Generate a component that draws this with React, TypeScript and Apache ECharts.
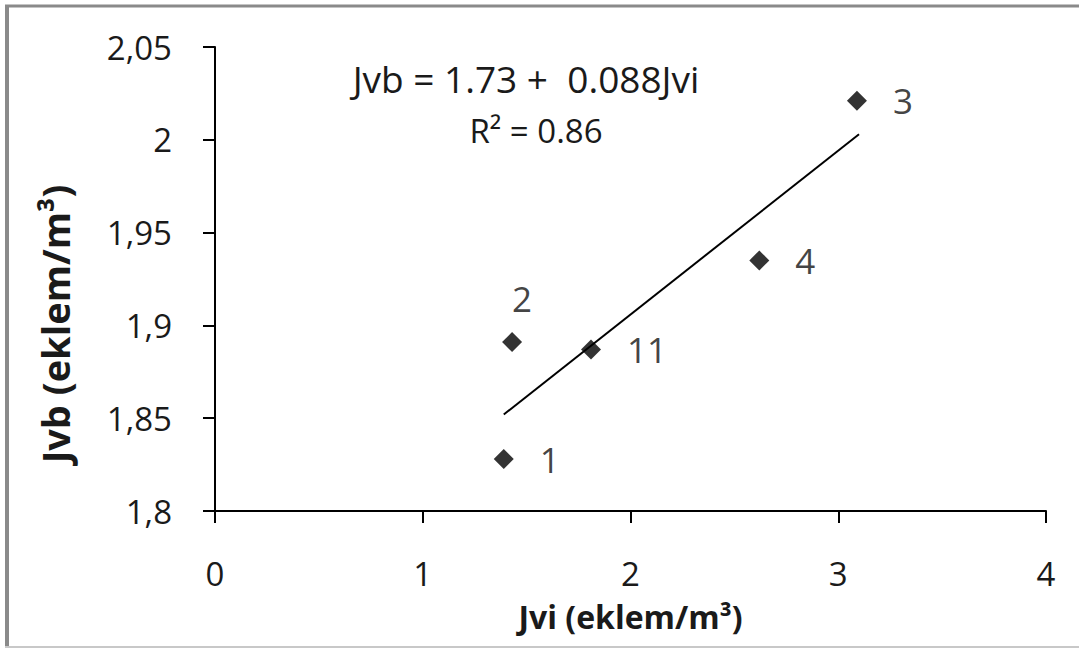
import React, { useEffect, useRef } from "react";
import * as echarts from "echarts";

const pointNames = ["1", "2", "11", "4", "3"];
const jviValues = [1.39, 1.43, 1.81, 2.62, 3.09];
const jvbValues = [1.828, 1.891, 1.887, 1.935, 2.021];
const labelPositions = ["right", "top", "right", "right", "right"];
const trendX = [1.39, 3.1];
const trendY = [1.852, 2.003];
const xTicks = [0, 1, 2, 3, 4];
const yTickLabels: Record<string, string> = {
  "1.8": "1,8",
  "1.85": "1,85",
  "1.9": "1,9",
  "1.95": "1,95",
  "2": "2",
  "2.05": "2,05",
};
const equationText = "Jvb = 1.73 +  0.088Jvi";
const r2Text = "R² = 0.86";
const xTitle = "Jvi (eklem/m³)";
const yTitle = "Jvb (eklem/m³)";

const FONT = "'Open Sans', sans-serif";
const TXT = "#1a1a1a";

export default function App() {
  const ref = useRef<HTMLDivElement>(null);
  useEffect(() => {
    if (!ref.current) return;
    const chart = echarts.init(ref.current, null, { renderer: "svg" });
    const scatterData = jviValues.map((x, i) => ({
      value: [x, jvbValues[i]],
      name: pointNames[i],
      label: {
        show: true,
        position: labelPositions[i],
        distance: labelPositions[i] === "top" ? 16 : 26,
        offset: labelPositions[i] === "top" ? [10, 0] : [0, 0],
        formatter: pointNames[i],
        color: "#111",
        textBorderWidth: 0,
      },
    }));
    chart.setOption({
      animation: false,
      backgroundColor: "#ffffff",
      grid: {
        left: 215,
        right: 33,
        top: 47,
        bottom: 137,
        containLabel: false,
        outerBoundsMode: "none",
      },
      xAxis: {
        type: "value",
        min: 0,
        max: 4,
        interval: 1,
        axisLine: { show: true, lineStyle: { color: "#000", width: 2 } },
        axisTick: { show: true, inside: false, length: 12, lineStyle: { color: "#000", width: 2 } },
        axisLabel: {
          color: TXT,
          fontFamily: FONT,
          fontSize: 33,
          margin: 46,
          formatter: (v: number) => (xTicks.includes(v) ? String(v) : ""),
        },
        splitLine: { show: false },
        name: xTitle,
        nameLocation: "middle",
        nameGap: 89,
        nameTextStyle: { color: TXT, fontFamily: FONT, fontSize: 32, fontWeight: "bold" },
      },
      yAxis: {
        type: "value",
        min: 1.8,
        max: 2.05,
        interval: 0.05,
        axisLine: { show: true, lineStyle: { color: "#000", width: 2 } },
        axisTick: { show: true, inside: false, length: 12, lineStyle: { color: "#000", width: 2 } },
        axisLabel: {
          color: TXT,
          fontFamily: FONT,
          fontSize: 33,
          margin: 43,
          formatter: (v: number) => yTickLabels[String(Math.round(v * 100) / 100)] ?? "",
        },
        splitLine: { show: false },
      },
      series: [
        {
          type: "line",
          data: trendX.map((x, i) => [x, trendY[i]]),
          symbol: "none",
          lineStyle: { color: "#000", width: 2 },
          z: 1,
        },
        {
          type: "scatter",
          data: scatterData,
          symbol: "diamond",
          symbolSize: [20, 20],
          itemStyle: { color: "#000" },
          label: { color: "#111", fontFamily: FONT, fontSize: 35 },
          z: 3,
        },
      ],
      graphic: [
        {
          type: "line",
          shape: { x1: 5, y1: 6, x2: 1079, y2: 6 },
          style: { stroke: "#8a8a8a", lineWidth: 3 },
          silent: true,
        },
        {
          type: "line",
          shape: { x1: 7, y1: 5, x2: 7, y2: 648 },
          style: { stroke: "#8a8a8a", lineWidth: 4 },
          silent: true,
        },
        {
          type: "line",
          shape: { x1: 5, y1: 647, x2: 1079, y2: 647 },
          style: { stroke: "#c8c8c8", lineWidth: 2 },
          silent: true,
        },
        {
          type: "text",
          x: 526,
          y: 78,
          style: {
            text: equationText,
            fontFamily: FONT,
            fontSize: 37,
            fill: TXT,
            textAlign: "center",
            textVerticalAlign: "middle",
          },
        },
        {
          type: "text",
          x: 536,
          y: 130,
          style: {
            text: r2Text,
            fontFamily: FONT,
            fontSize: 33,
            fill: TXT,
            textAlign: "center",
            textVerticalAlign: "middle",
          },
        },
        {
          type: "text",
          x: 55,
          y: 324,
          rotation: Math.PI / 2,
          style: {
            text: yTitle,
            fontFamily: FONT,
            fontSize: 38,
            fontWeight: "bold",
            fill: TXT,
            textAlign: "center",
            textVerticalAlign: "middle",
          },
        },
      ],
    });
    return () => chart.dispose();
  }, []);
  return (
    <div
      ref={ref}
      style={{ position: "absolute", left: 0, top: 0, width: 1079, height: 648 }}
    />
  );
}
